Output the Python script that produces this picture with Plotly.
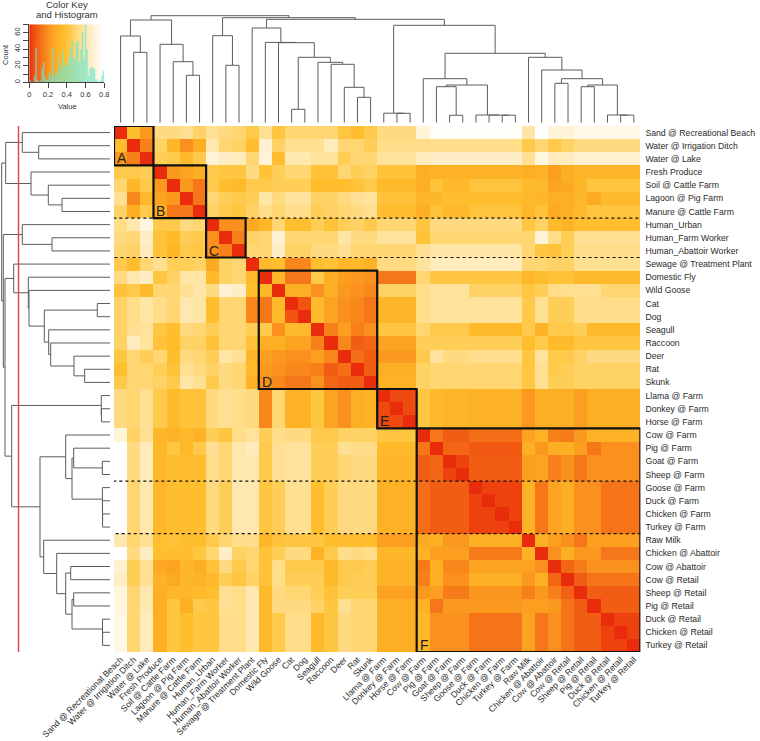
import plotly.graph_objects as go

labels = ["Sand @ Recreational Beach","Water @ Irrigation Ditch","Water @ Lake","Fresh Produce","Soil @ Cattle Farm",
"Lagoon @ Pig Farm","Manure @ Cattle Farm","Human_Urban","Human_Farm Worker","Human_Abattoir Worker",
"Sewage @ Treatment Plant","Domestic Fly","Wild Goose","Cat","Dog","Seagull","Raccoon","Deer","Rat","Skunk",
"Llama @ Farm","Donkey @ Farm","Horse @ Farm","Cow @ Farm","Pig @ Farm","Goat @ Farm","Sheep @ Farm",
"Goose @ Farm","Duck @ Farm","Chicken @ Farm","Turkey @ Farm","Raw Milk","Chicken @ Abattoir","Cow @ Abattoir",
"Cow @ Retail","Sheep @ Retail","Pig @ Retail","Duck @ Retail","Chicken @ Retail","Turkey @ Retail"]

# distance values, in hundredths
r01=[0,38,22,52,52,56,48,56,52,50,44,56,42,50,50,50,50,42,38,44,52,52,52,70,78,78,78,78,78,78,78,60,80,70,70,74,74,74,74,74]
r02=[38,0,16,48,34,20,30,62,50,48,38,68,48,56,56,56,64,50,50,46,54,54,54,54,54,54,54,54,54,54,54,44,50,44,48,52,52,52,52,52]
r03=[22,16,0,46,44,36,44,70,66,64,50,70,38,62,62,58,58,46,50,50,58,58,58,64,66,66,66,66,66,66,66,56,72,64,64,68,68,68,68,68]
r04=[44,44,46,0,22,26,30,44,42,42,52,40,46,50,50,40,40,50,46,48,40,40,40,30,32,32,32,32,32,32,32,30,32,24,30,33,33,33,33,33]
r05=[50,34,44,22,0,22,14,44,38,36,44,44,46,46,46,37,37,38,40,44,36,36,36,30,40,35,35,41,41,41,41,36,36,26,28,34,41,41,41,41]
r06=[56,18,36,26,22,0,14,50,46,44,46,60,52,58,58,48,48,52,56,58,40,40,40,34,34,38,38,38,38,38,38,36,34,30,30,34,28,36,36,36]
r07=[48,30,44,30,14,14,0,48,44,42,48,54,50,54,54,46,48,50,52,56,38,38,38,30,40,35,35,41,41,41,41,34,40,28,30,36,41,41,41,41]
r08=[54,62,72,44,44,52,50,0,20,20,28,34,50,38,38,46,40,46,48,44,50,50,50,42,52,52,52,52,52,52,52,42,48,36,32,38,38,38,38,38]
r09=[52,50,66,40,36,46,44,20,0,16,48,50,68,50,50,50,50,60,52,52,58,58,58,40,50,50,50,50,50,50,50,50,70,54,46,56,56,56,56,56]
r10=[50,48,64,40,34,44,42,20,16,0,50,50,66,48,48,52,52,56,50,50,50,50,50,56,60,60,60,60,60,60,60,50,42,40,46,54,54,54,54,54]
r11=[44,38,50,56,46,46,48,28,48,50,0,36,38,18,18,38,40,34,36,32,52,52,52,58,64,64,64,64,64,64,64,50,50,48,48,56,56,56,56,56]
r12=[52,62,66,42,48,60,60,36,48,50,36,0,34,14,14,44,30,24,22,20,14,14,14,50,42,42,42,42,42,42,42,34,38,40,40,36,36,36,36,36]
r13=[40,44,36,50,50,56,60,52,68,66,38,34,0,30,30,20,30,22,20,18,48,48,48,54,58,58,58,48,48,48,48,42,46,54,56,56,56,50,50,50]
r14=[48,54,60,54,50,62,60,38,50,50,18,14,36,0,6,36,26,20,18,14,33,33,33,54,58,58,58,58,58,58,58,44,56,46,46,54,54,54,54,54]
r15=[48,54,60,54,50,62,60,38,50,50,18,14,36,6,0,36,26,20,18,14,33,33,33,54,58,58,58,58,58,58,58,44,56,46,46,54,54,54,54,54]
r16=[48,56,58,42,38,52,50,46,50,50,46,44,20,36,36,0,16,24,16,20,42,42,42,50,44,44,44,36,36,36,36,44,32,44,44,46,36,36,36,36]
r17=[48,64,58,40,37,48,48,40,50,50,40,30,30,26,26,16,0,18,8,10,26,26,26,46,46,46,46,46,46,46,46,38,44,36,36,42,42,42,42,42]
r18=[42,50,46,50,38,52,50,46,60,56,34,24,22,20,20,24,18,0,12,8,22,22,22,44,58,52,52,55,55,55,55,42,58,44,44,48,52,52,52,52]
r19=[38,50,50,46,40,56,52,48,52,50,36,22,20,18,18,16,8,12,0,8,30,30,30,48,50,50,50,50,50,50,50,42,56,44,46,48,48,48,48,48]
r20=[44,50,50,48,44,60,56,44,52,50,32,20,18,14,14,20,10,8,8,0,31,31,31,48,50,50,50,50,50,50,50,42,56,46,46,48,48,48,48,48]
r21=[52,50,56,44,36,40,40,52,56,54,52,18,50,32,32,42,26,20,30,32,0,4,4,42,36,33,33,31,31,31,31,22,30,30,30,24,30,30,30,30]
r22=[52,50,56,44,36,40,40,52,56,54,52,18,50,32,32,42,26,20,30,32,4,0,4,42,36,33,33,31,31,31,31,22,30,30,30,24,30,30,30,30]
r23=[52,50,56,44,36,40,40,52,56,54,52,18,50,32,32,42,26,20,30,32,4,4,0,42,36,33,33,31,31,31,31,22,30,30,30,24,30,30,30,30]
r24=[70,48,56,34,32,36,32,46,42,54,58,46,54,52,52,44,44,48,48,48,42,42,42,0,14,8,8,12,12,12,12,26,32,16,15,22,32,32,32,32]
r25=[80,52,64,34,42,34,44,56,50,62,64,44,56,58,58,46,46,56,54,54,36,36,36,14,0,10,10,7,7,7,7,30,22,30,30,24,14,20,20,20]
r26=[80,52,64,34,38,38,38,54,50,62,62,44,56,58,58,46,46,50,52,52,33,33,33,8,10,0,3,8,8,8,8,24,26,16,20,14,20,20,20,20]
r27=[80,52,64,34,38,38,38,54,50,62,62,44,56,58,58,46,46,50,52,52,33,33,33,8,10,3,0,8,8,8,8,24,26,16,20,14,20,20,20,20]
r28=[80,50,62,34,38,38,38,52,46,62,62,42,46,56,56,38,46,52,52,52,31,31,31,12,8,8,8,0,3,3,3,32,14,26,30,20,20,13,13,13]
r29=[80,50,62,34,38,38,38,52,46,62,62,42,46,56,56,38,46,52,52,52,31,31,31,12,8,8,8,3,0,3,3,32,14,26,30,20,20,13,13,13]
r30=[80,50,62,34,38,38,38,52,46,62,62,42,46,56,56,38,46,52,52,52,31,31,31,12,8,8,8,3,3,0,3,32,14,26,30,20,20,13,13,13]
r31=[80,50,62,34,38,38,38,52,46,62,62,42,46,56,56,38,46,52,52,52,31,31,31,12,8,8,8,3,3,3,0,32,14,26,30,20,20,13,13,13]
r32=[62,50,56,38,40,38,38,44,50,54,54,34,40,42,42,42,38,38,38,38,24,24,24,28,30,22,22,30,30,30,30,0,30,24,20,14,24,24,24,24]
r33=[80,52,66,38,38,38,42,50,66,48,50,40,46,52,52,32,44,54,52,54,34,34,34,32,24,24,24,15,15,15,15,32,0,20,30,22,22,14,14,14]
r34=[68,46,56,28,26,34,30,40,52,44,50,40,54,44,44,44,36,44,44,46,32,32,32,15,30,18,18,26,26,26,26,25,20,0,10,15,20,20,20,20]
r35=[66,46,56,32,28,34,32,36,46,42,48,40,54,46,46,46,36,44,46,46,32,32,32,16,30,20,20,30,30,30,30,22,30,10,0,8,13,13,13,13]
r36=[72,50,62,30,34,34,36,38,56,54,62,36,52,50,50,46,40,46,46,46,25,25,25,22,24,15,15,21,21,21,21,16,22,16,9,0,8,8,8,8]
r37=[72,50,62,30,42,30,44,42,56,54,62,36,52,52,52,48,42,56,50,50,30,30,30,32,14,22,22,22,22,22,22,24,24,22,13,8,0,8,8,8]
r38=[74,50,64,30,42,38,42,42,54,54,62,36,44,54,54,36,42,52,50,50,30,30,30,34,20,20,20,13,13,13,13,26,14,20,13,8,8,0,3,3]
r39=[74,50,64,30,42,38,42,42,54,54,62,36,44,54,54,36,42,52,50,50,30,30,30,34,20,20,20,13,13,13,13,26,14,20,13,8,8,3,0,3]
r40=[74,50,64,30,42,38,42,42,54,54,62,36,44,54,54,36,42,52,50,50,30,30,30,34,20,20,20,13,13,13,13,26,14,20,13,8,8,3,3,0]
rows=[r01,r02,r03,r04,r05,r06,r07,r08,r09,r10,r11,r12,r13,r14,r15,r16,r17,r18,r19,r20,
      r21,r22,r23,r24,r25,r26,r27,r28,r29,r30,r31,r32,r33,r34,r35,r36,r37,r38,r39,r40]

hist_counts=[3,0,0,8,42,3,1,2,16,24,7,3,4,12,8,42,10,8,14,30,14,20,40,20,24,20,30,40,52,30,28,48,50,24,40,60,28,70,40,8,16,18,18,16,4,2,0,2,8,14]
key_ramp=[i/200*0.8 for i in range(201)]

# dendrograms: (height, child, child); leaves are 1-based positions
top_tree=(107,
  (102.7,(86.7,1,(70.4,2,3)),(78.4,4,(61,5,(47.4,6,7)))),
  (105,(87,8,(57.4,9,10)),
   (103.4,
    (94.7,11,(80.3,12,(80,13,(65.4,(13.4,14,15),(60.4,16,(58.4,17,(35.4,18,(25.4,19,20)))))))),
    (97.4,(9.5,21,(9.4,22,23)),
     (69.4,
      (44,24,(37.7,(36,25,(7.4,26,27)),(7.7,28,(7.6,29,(7.5,30,31))))),
      (65.4,32,(52.7,33,(44,(39.4,34,35),(37.7,(36,36,37),(7.7,38,(7.6,39,40))))))
     )))))
left_tree=(108.3,
  (104.3,(87.7,1,(71.3,2,3)),(79,4,(61.7,5,(48,6,7)))),
  (106.7,(87.7,8,(58,9,10)),
   (105,
    (96.3,11,(81.7,12,(81,13,(65.7,(12.7,14,15),(61.3,16,(59.3,17,(36,18,(25.3,19,20))))))) ),
    (98.3,(8.7,21,(8.6,22,23)),
     (70,
      (44.3,24,(38,(36.3,25,(7.7,26,27)),(7.6,28,(7.5,29,(7.4,30,31))))),
      (66.3,32,(53.3,33,(44.3,(39.3,34,35),(38,(36.3,36,37),(7.5,38,(7.4,39,40))))))
     )))))
cut_height=91.5
blocks=[(1,3,"A"),(4,7,"B"),(8,10,"C"),(12,20,"D"),(21,23,"E"),(24,40,"F")]
dotted_rows=[(8,10),(28,31)]

W,H=760,741
def fx(a,b): return [a/W,b/W]
def fy(top,bot): return [1-bot/H,1-top/H]
HM_L,HM_R,HM_T,HM_B=114,640.4,126,652

colors=[(0,"#e82c0c"),(5,"#f05010"),(11,"#f36a17"),(16,"#f7801b"),(22,"#fb991f"),(30,"#fdaf24"),(38,"#ffbe2e"),
        (45,"#ffcc50"),(52,"#ffda80"),(58,"#ffe29b"),(68,"#fff1d0"),(80,"#ffffff")]
cs=[[v/80,c] for v,c in colors]

def walk(node,xs,ys):
    if isinstance(node,int):
        return node,0.0
    h,a,b=node
    pa,ha=walk(a,xs,ys); pb,hb=walk(b,xs,ys)
    xs.extend([pa,pa,pb,pb,None]); ys.extend([ha,h,h,hb,None])
    return (pa+pb)/2,h

fig=go.Figure()
idx=list(range(1,41))
fig.add_trace(go.Heatmap(z=[[v/100 for v in r] for r in rows],x=idx,y=idx,colorscale=cs,zmin=0,zmax=0.8,showscale=False,xgap=0,ygap=0,hoverinfo="skip"))

px_,hh=[],[]
walk(top_tree,px_,hh)
fig.add_trace(go.Scatter(x=px_,y=hh,mode="lines",xaxis="x2",yaxis="y2",line=dict(color="#5c5c5c",width=1),hoverinfo="skip"))
py_,hl=[],[]
walk(left_tree,py_,hl)
fig.add_trace(go.Scatter(x=hl,y=py_,mode="lines",xaxis="x3",yaxis="y3",line=dict(color="#5c5c5c",width=1),hoverinfo="skip"))
fig.add_trace(go.Scatter(x=[cut_height,cut_height],y=[0.5,40.5],mode="lines",xaxis="x3",yaxis="y3",line=dict(color="#dd4a60",width=1.5),hoverinfo="skip"))

fig.add_trace(go.Heatmap(z=[key_ramp],x=key_ramp,y=[0,70],xaxis="x4",yaxis="y4",colorscale=cs,zmin=0,zmax=0.8,showscale=False,hoverinfo="skip"))
bin_w=0.8/len(hist_counts)
fig.add_trace(go.Bar(x=[(i+0.5)*bin_w for i in range(len(hist_counts))],y=hist_counts,width=bin_w,xaxis="x4",yaxis="y4",
                     marker=dict(color="rgba(105,232,215,0.7)",line=dict(width=0)),hoverinfo="skip"))

shapes=[]
for a,b,_ in blocks:
    shapes.append(dict(type="rect",xref="x",yref="y",x0=a-0.5,x1=b+0.5,y0=a-0.5,y1=b+0.5,line=dict(color="#111111",width=2.2),layer="above"))
for a,b in dotted_rows:
    shapes.append(dict(type="rect",xref="x",yref="y",x0=0.45,x1=40.6,y0=a-0.5,y1=b+0.5,line=dict(color="#111111",width=1.2,dash="dot"),layer="above"))
anns=[]
for a,b,t in blocks:
    anns.append(dict(text=t,x=a-0.5,y=b+0.5,xref="x",yref="y",xanchor="left",yanchor="bottom",showarrow=False,
                     font=dict(size=14,color="#222222"),xshift=1,yshift=-3))
def note(t,x,y,size,**kw):
    anns.append(dict(text=t,x=x/W,y=1-y/H,xref="paper",yref="paper",xanchor="center",yanchor="middle",showarrow=False,font=dict(size=size,color="#333333"),**kw))
note("Color Key",67,4.5,9.5)
note("and Histogram",67,14.5,9.5)
note("Value",67,106,7.5)
note("Count",5,55,7.5,textangle=-90)

F=dict(family="Liberation Sans, Arial, sans-serif",size=8.7,color="#2a2a2a")
hidden=dict(visible=False,showgrid=False,zeroline=False)
fig.update_layout(
    width=W,height=H,autosize=False,margin=dict(l=0,r=0,t=0,b=0,autoexpand=False),paper_bgcolor="white",plot_bgcolor="white",
    showlegend=False,font=F,shapes=shapes,annotations=anns,barmode="overlay",
    xaxis=dict(domain=fx(HM_L,HM_R),range=[0.5,40.5],tickmode="array",tickvals=idx,ticktext=labels,tickangle=-45,side="bottom",
               ticks="",showgrid=False,zeroline=False,showline=False,tickfont=F,automargin=False),
    yaxis=dict(domain=fy(HM_T,HM_B),range=[40.5,0.5],tickmode="array",tickvals=idx,ticktext=labels,side="right",anchor="x",ticklabelstandoff=4,
               ticks="",showgrid=False,zeroline=False,showline=False,tickfont=F,automargin=False),
    xaxis2=dict(domain=fx(HM_L,HM_R),range=[0.5,40.5],anchor="y2",**hidden),
    yaxis2=dict(domain=fy(0,122.7),range=[0,122.7],anchor="x2",**hidden),
    xaxis3=dict(domain=fx(0,110),range=[110,0],anchor="y3",**hidden),
    yaxis3=dict(domain=fy(HM_T,HM_B),range=[40.5,0.5],anchor="x3",**hidden),
    xaxis4=dict(domain=fx(29.3,104.3),range=[0,0.8],anchor="y4",tickmode="array",tickvals=[0,0.2,0.4,0.6,0.8],ticktext=["0","0.2","0.4","0.6","0.8"],
                ticks="outside",ticklen=5,tickcolor="#444444",tickwidth=1,showline=True,linecolor="#444444",linewidth=1,showgrid=False,zeroline=False,
                tickfont=dict(family=F["family"],size=7.5,color="#333333")),
    yaxis4=dict(domain=fy(24.3,82.3),range=[0,70],anchor="x4",tickmode="array",tickvals=[0,10,20,30,40,50,60,70],ticktext=["0","","20","","40","","60",""],tickangle=-90,
                ticks="outside",ticklen=5,tickcolor="#444444",tickwidth=1,showline=True,linecolor="#444444",linewidth=1,showgrid=False,zeroline=False,
                tickfont=dict(family=F["family"],size=7.5,color="#333333")),
)
fig.write_html("out.html",post_script="document.body.style.margin='0';",config=dict(displayModeBar=False))
